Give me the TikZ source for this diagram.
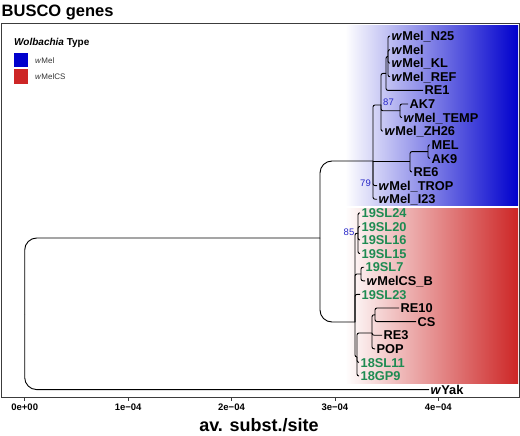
\documentclass[tikz,border=0pt]{standalone}
\usepackage{fontspec}
\setmainfont{Liberation Sans}
\usepackage{xcolor}
\usepackage{tikz}
\definecolor{wmelblue}{RGB}{0,0,205}
\definecolor{wmelcsred}{RGB}{205,38,38}
\definecolor{fieldgreen}{RGB}{30,139,82}
\definecolor{bootblue}{RGB}{40,40,200}
\definecolor{framegray}{RGB}{60,60,60}

\begin{document}
\begin{tikzpicture}[x=1pt, y=-1pt,
    leaf/.style={anchor=west, inner sep=1.5pt, text height=9.2pt, text depth=0pt,
        font=\fontsize{12.8}{14}\selectfont\bfseries},
    fieldleaf/.style={leaf, text=fieldgreen},
    branch/.style={line width=0.9pt, rounded corners=2pt},
    longbranch/.style={branch, rounded corners=12pt},
    boot/.style={anchor=east, inner sep=0pt, text=bootblue, font=\fontsize{9.5}{10}\selectfont},
    keybox/.style={minimum size=14.5pt, inner sep=0pt},
    keytext/.style={anchor=west, inner sep=0pt, text=black!80, font=\fontsize{8}{9}\selectfont},
    ticklabel/.style={inner sep=0pt, font=\fontsize{9.5}{10}\selectfont\bfseries}]

    \useasboundingbox (0,0) rectangle (520,436);

    % clade backgrounds
    \shade[left color=white, right color=wmelblue] (345,26) rectangle (518,205);
    \shade[left color=white, right color=wmelcsred] (345,208) rectangle (518,383);

    % panel
    \draw[framegray, line width=0.8pt] (1,23) rectangle (519,397);
    \node[anchor=base west, inner sep=0pt, font=\fontsize{16.5}{18}\selectfont\bfseries] (title) at (1.5,16.3) {BUSCO genes};

    % legend
    \node[anchor=west, inner sep=0pt, font=\fontsize{10}{12}\selectfont\bfseries] (legtitle) at (14,43) {\textit{Wolbachia} Type};
    \node[keybox, fill=wmelblue] (keymel) at (21,60) {};
    \node[keybox, fill=wmelcsred] (keycs) at (21,76.5) {};
    \node[keytext] (txtmel) at (35,61) {\textit{w}Mel};
    \node[keytext] (txtcs) at (35,77) {\textit{w}MelCS};

    % internal nodes
    \coordinate (root) at (24.7,314);
    \coordinate (ingroup) at (320,238);
    \coordinate (wmelnode) at (373,161);
    \coordinate (wmelsub) at (381,105);
    \coordinate (wmelcore) at (386,73.4);
    \coordinate (refgroup) at (388,56.4);
    \coordinate (akgroup) at (400,110.8);
    \coordinate (melre) at (410,161);
    \coordinate (melak) at (428,151.6);
    \coordinate (csnode) at (355,322);
    \coordinate (slgroup) at (358,233.2);
    \coordinate (csbgroup) at (361,274);
    \coordinate (gpgroup) at (357,357);
    \coordinate (popgroup) at (372,333);
    \coordinate (recs) at (375,314.8);

    % tips
    \node[leaf] (n25) at (390,36) {\textit{w}Mel\_N25};
    \node[leaf] (wmel) at (390,49.6) {\textit{w}Mel};
    \node[leaf] (kl) at (390,63.2) {\textit{w}Mel\_KL};
    \node[leaf] (ref) at (390,76.8) {\textit{w}Mel\_REF};
    \node[leaf] (reone) at (423,90.4) {RE1};
    \node[leaf] (akseven) at (408,104) {AK7};
    \node[leaf] (temp) at (402,117.6) {\textit{w}Mel\_TEMP};
    \node[leaf] (zh) at (383,131.2) {\textit{w}Mel\_ZH26};
    \node[leaf] (mel) at (430,144.8) {MEL};
    \node[leaf] (aknine) at (430,158.4) {AK9};
    \node[leaf] (resix) at (412,172) {RE6};
    \node[leaf] (trop) at (377,185.6) {\textit{w}Mel\_TROP};
    \node[leaf] (itt) at (377,199.2) {\textit{w}Mel\_I23};
    \node[fieldleaf] (sltwfour) at (360,212.8) {19SL24};
    \node[fieldleaf] (sltwenty) at (360,226.4) {19SL20};
    \node[fieldleaf] (slsixteen) at (360,240) {19SL16};
    \node[fieldleaf] (slfifteen) at (360,253.6) {19SL15};
    \node[fieldleaf] (slseven) at (364,267.2) {19SL7};
    \node[leaf] (csb) at (365,280.8) {\textit{w}MelCS\_B};
    \node[fieldleaf] (sltwthree) at (360,294.4) {19SL23};
    \node[leaf] (reten) at (399,308) {RE10};
    \node[leaf] (cs) at (416,321.6) {CS};
    \node[leaf] (rethree) at (382,335.2) {RE3};
    \node[leaf] (pop) at (375,348.8) {POP};
    \node[fieldleaf] (sleleven) at (359,362.4) {18SL11};
    \node[fieldleaf] (gpnine) at (359,376) {18GP9};
    \node[leaf] (wyak) at (429,389.6) {\textit{w}Yak};

    % branches
    \draw[longbranch] (root) |- (ingroup);
    \draw[longbranch] (root) |- (wyak.west);
    \draw[longbranch] (ingroup) |- (wmelnode);
    \draw[longbranch] (ingroup) |- (csnode);

    \draw[branch] (wmelnode) |- (wmelsub);
    \draw[branch] (wmelnode) -- (melre);
    \draw[branch] (wmelnode) |- (trop.west);
    \draw[branch] (wmelnode) |- (itt.west);
    \draw[branch] (wmelsub) |- (wmelcore);
    \draw[branch] (wmelsub) |- (akgroup);
    \draw[branch] (wmelsub) |- (zh.west);
    \draw[branch] (wmelcore) |- (refgroup);
    \draw[branch] (wmelcore) |- (reone.west);
    \draw[branch] (refgroup) |- (n25.west);
    \draw[branch] (refgroup) |- (wmel.west);
    \draw[branch] (refgroup) |- (kl.west);
    \draw[branch] (refgroup) |- (ref.west);
    \draw[branch] (akgroup) |- (akseven.west);
    \draw[branch] (akgroup) |- (temp.west);
    \draw[branch] (melre) |- (melak);
    \draw[branch] (melre) |- (resix.west);
    \draw[branch] (melak) |- (mel.west);
    \draw[branch] (melak) |- (aknine.west);

    \draw[branch] (csnode) |- (slgroup);
    \draw[branch] (csnode) |- (csbgroup);
    \draw[branch] (csnode) |- (sltwthree.west);
    \draw[branch] (csnode) |- (gpgroup);
    \draw[branch] (slgroup) |- (sltwfour.west);
    \draw[branch] (slgroup) |- (sltwenty.west);
    \draw[branch] (slgroup) |- (slsixteen.west);
    \draw[branch] (slgroup) |- (slfifteen.west);
    \draw[branch] (csbgroup) |- (slseven.west);
    \draw[branch] (csbgroup) |- (csb.west);
    \draw[branch] (gpgroup) |- (popgroup);
    \draw[branch] (gpgroup) |- (sleleven.west);
    \draw[branch] (gpgroup) |- (gpnine.west);
    \draw[branch] (popgroup) |- (recs);
    \draw[branch] (popgroup) |- (rethree.west);
    \draw[branch] (popgroup) |- (pop.west);
    \draw[branch] (recs) |- (reten.west);
    \draw[branch] (recs) |- (cs.west);

    % support values
    \node[boot] (bootak) at (394,102) {87};
    \node[boot] (boottrop) at (371,183) {79};
    \node[boot] (bootsl) at (354.5,232) {85};

    % axis
    \draw[framegray, line width=0.8pt] (24.7,397) -- (24.7,401);
    \draw[framegray, line width=0.8pt] (128.1,397) -- (128.1,401);
    \draw[framegray, line width=0.8pt] (231.5,397) -- (231.5,401);
    \draw[framegray, line width=0.8pt] (334.9,397) -- (334.9,401);
    \draw[framegray, line width=0.8pt] (438.3,397) -- (438.3,401);
    \node[ticklabel] (tickzero) at (24.7,407.5) {0e+00};
    \node[ticklabel] (tickone) at (128.1,407.5) {1e−04};
    \node[ticklabel] (ticktwo) at (231.5,407.5) {2e−04};
    \node[ticklabel] (tickthree) at (334.9,407.5) {3e−04};
    \node[ticklabel] (tickfour) at (438.3,407.5) {4e−04};
    \node[inner sep=0pt, font=\fontsize{18}{20}\selectfont\bfseries] (axistitle) at (259,425) {av. subst./site};

\end{tikzpicture}
\end{document}
